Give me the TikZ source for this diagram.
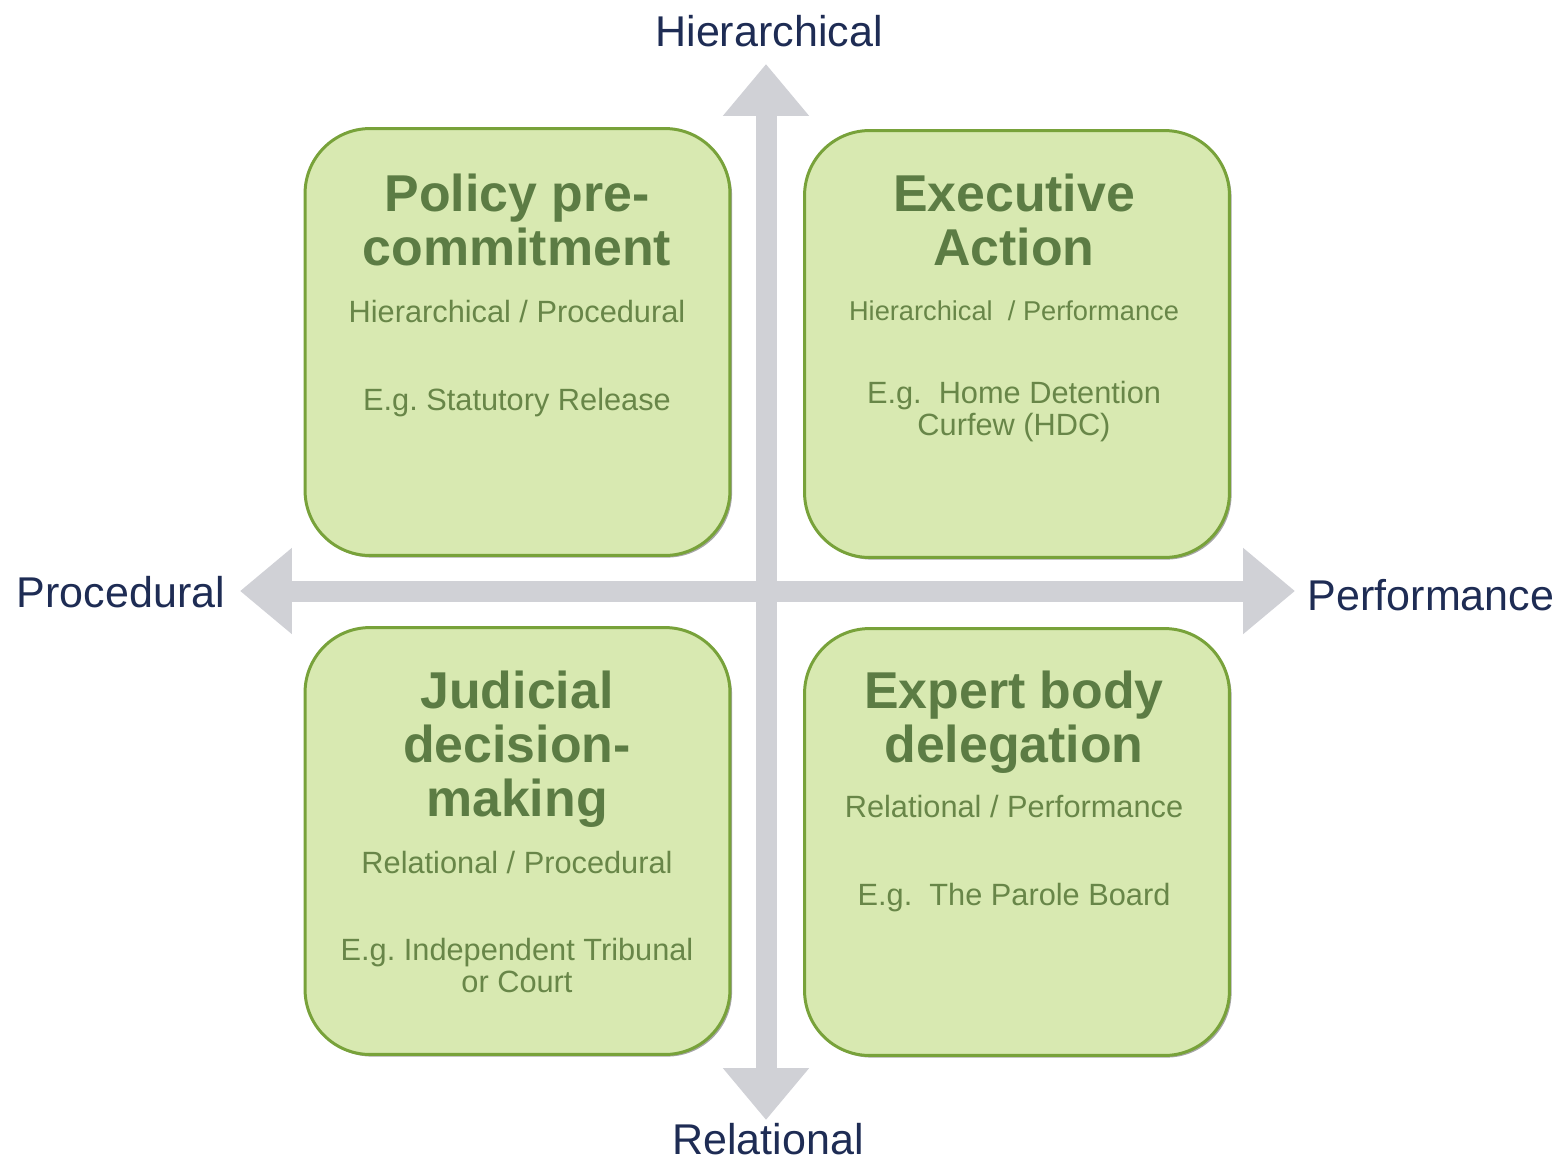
\documentclass[tikz,border=0pt]{standalone}
\usepackage{fontspec}
\setmainfont{Liberation Sans}
\usetikzlibrary{arrows.meta,shadows}
\frenchspacing
\definecolor{boxfill}{RGB}{216,233,177}
\definecolor{boxline}{RGB}{120,162,58}
\definecolor{titlegreen}{RGB}{92,124,68}
\definecolor{subgreen}{RGB}{104,134,72}
\definecolor{axisgray}{RGB}{208,209,214}
\definecolor{axisnavy}{RGB}{30,44,84}
\tikzset{
  quadrant/.style={draw=boxline, line width=1.7pt, fill=boxfill, rounded corners=1.3cm,
    minimum width=8.5cm, minimum height=8.54cm,
    drop shadow={shadow xshift=1.2pt, shadow yshift=-1.2pt, fill=black, opacity=0.35}},
  qtitle/.style={anchor=base, align=center, text=titlegreen, inner sep=0pt,
    font=\bfseries\fontsize{29.5}{30.7}\selectfont},
  qtext/.style={anchor=base, align=center, text=subgreen, inner sep=0pt,
    font=\fontsize{17.5}{18.2}\selectfont},
  axislabel/.style={anchor=base, text=axisnavy, inner sep=0pt,
    font=\fontsize{24.5}{26}\selectfont},
  axis/.style={draw=axisgray, line width=0.42cm,
    {Triangle[width=1.66cm,length=1.04cm]}-{Triangle[width=1.66cm,length=1.04cm]}}
}
\begin{document}
\begin{tikzpicture}[x=0.02cm, y=-0.02cm]
\useasboundingbox (0,0) rectangle (1565,1161);
% axes
\coordinate (left end) at (240,591);
\coordinate (right end) at (1295,591);
\coordinate (top end) at (766,64);
\coordinate (bottom end) at (766,1120);
\draw[axis] (left end) -- (right end);
\draw[axis] (top end) -- (bottom end);
\node[axislabel] (hierarchical) at (769,46) {Hierarchical};
\node[axislabel] (relational) at (768,1154) {Relational};
\node[axislabel] (procedural) at (121,607) {Procedural};
\node[axislabel] (performance) at (1431,610) {Performance};
% quadrants
\node[quadrant] (policy) at (517.5,342) {};
\node[quadrant] (executive) at (1017,344) {};
\node[quadrant] (judicial) at (517.5,841) {};
\node[quadrant] (expert) at (1017,842) {};
% top left
\node[qtitle] (policy title) at (517,265) {Policy pre-\\commitment};
\node[qtext] (policy type) at (517,322) {Hierarchical / Procedural};
\node[qtext] (policy eg) at (517,410) {E.g. Statutory Release};
% top right
\node[qtitle] (executive title) at (1014,265) {Executive\\Action};
\node[qtext, font=\fontsize{15.5}{17}\selectfont] (executive type) at (1014,320) {Hierarchical\ \ / Performance};
\node[qtext] (executive eg) at (1014,435) {E.g.\ \ Home Detention\\Curfew (HDC)};
% bottom left
\node[qtitle] (judicial title) at (517,816) {Judicial\\decision-\\making};
\node[qtext] (judicial type) at (517,873) {Relational / Procedural};
\node[qtext] (judicial eg) at (517,992) {E.g. Independent Tribunal\\or Court};
% bottom right
\node[qtitle] (expert title) at (1014,762) {Expert body\\delegation};
\node[qtext] (expert type) at (1014,817) {Relational / Performance};
\node[qtext] (expert eg) at (1014,905) {E.g.\ \ The Parole Board};
\end{tikzpicture}
\end{document}
